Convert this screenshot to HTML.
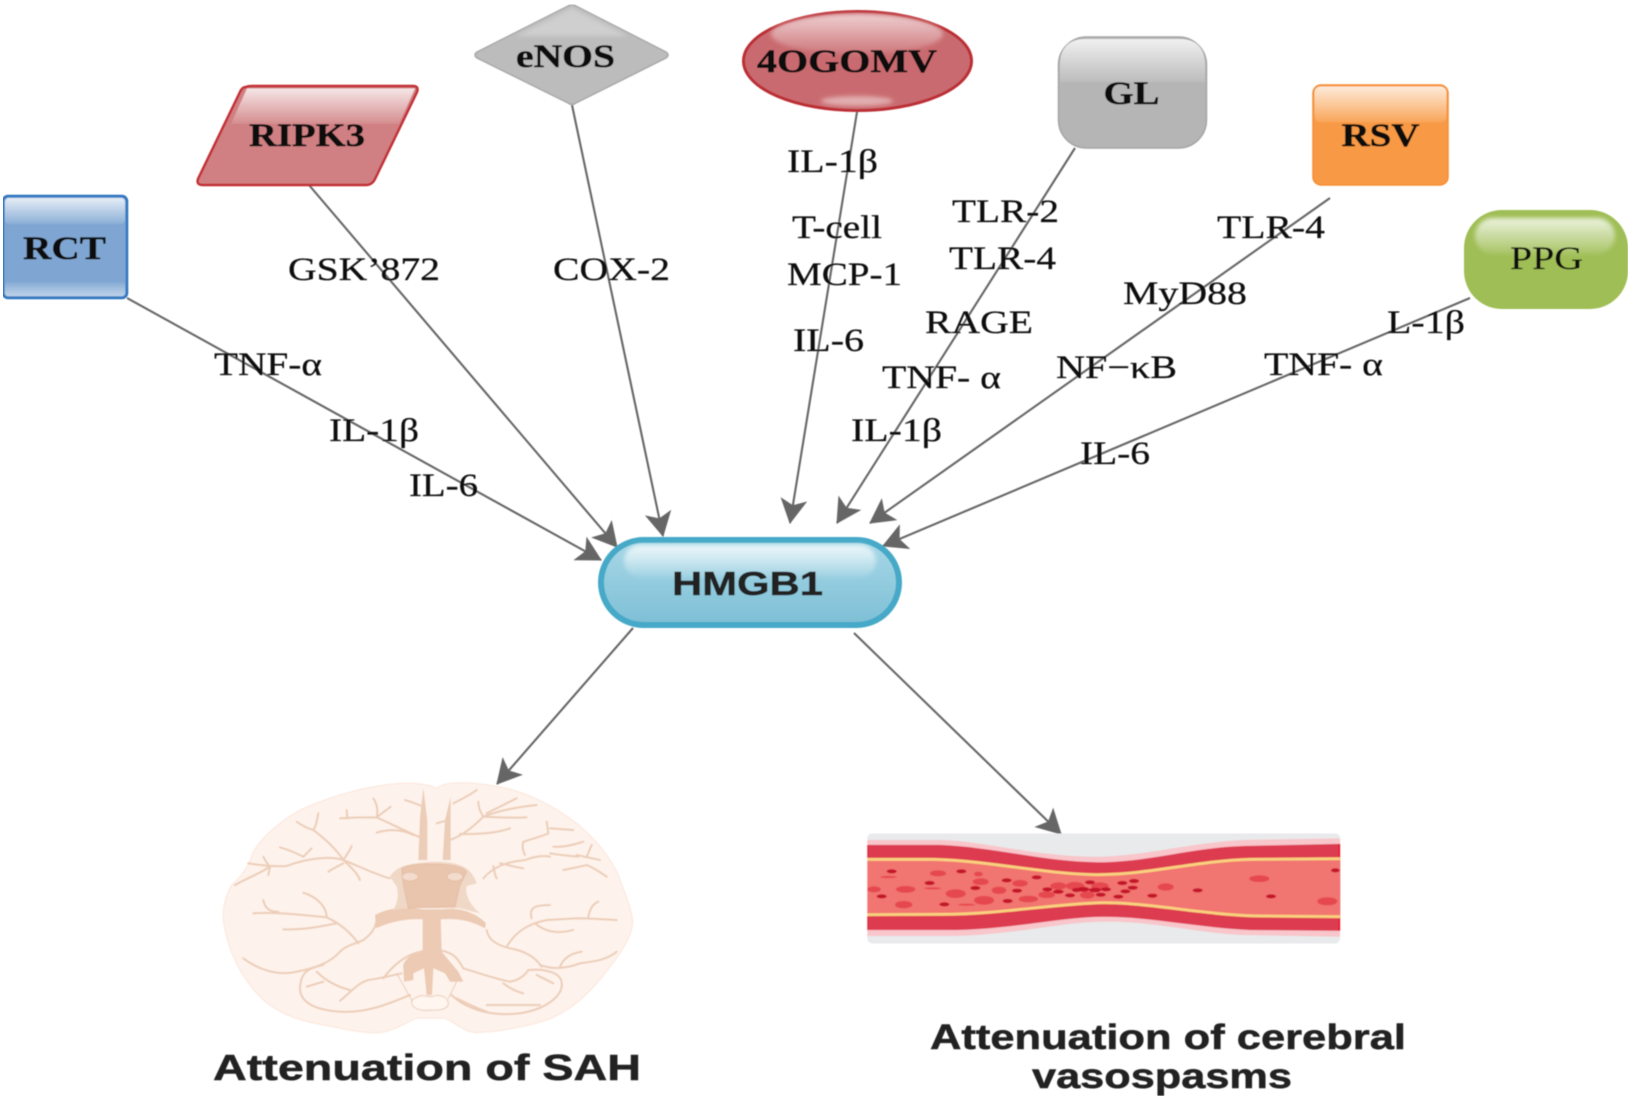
<!DOCTYPE html>
<html>
<head>
<meta charset="utf-8">
<style>
html,body{margin:0;padding:0;background:#fff}
svg{display:block}
.l{font-family:"Liberation Serif",serif;font-size:33px;fill:#111;stroke:#111;stroke-width:.25}
.b{font-family:"Liberation Serif",serif;font-size:33px;font-weight:bold;fill:#0c0c0c;stroke:#0c0c0c;stroke-width:.45}
.s{font-family:"Liberation Sans",sans-serif;font-weight:bold;fill:#222;stroke:#222;stroke-width:.5}
</style>
</head>
<body>
<svg width="1630" height="1099" viewBox="0 0 1630 1099" xmlns="http://www.w3.org/2000/svg">
<defs>
<linearGradient id="hl" x1="0" y1="0" x2="0" y2="1"><stop offset="0" stop-color="#fff" stop-opacity=".8"/><stop offset="1" stop-color="#fff" stop-opacity=".1"/></linearGradient>
<linearGradient id="hb" x1="0" y1="0" x2="0" y2="1"><stop offset="0" stop-color="#fff" stop-opacity=".05"/><stop offset="1" stop-color="#fff" stop-opacity=".5"/></linearGradient>
<linearGradient id="hg" x1="0" y1="0" x2="0" y2="1"><stop offset="0" stop-color="#a8d8e7"/><stop offset="1" stop-color="#7dbfd6"/></linearGradient>
<marker id="a" markerUnits="userSpaceOnUse" markerWidth="25" markerHeight="27" viewBox="0 0 25 27" refX="24" refY="13.5" orient="auto"><path d="M0,0 L25,13.5 L0,27 L6,13.5 z" fill="#666"/></marker>
<filter id="soft" x="0" y="0" width="100%" height="100%"><feGaussianBlur stdDeviation="0.55"/></filter>
<filter id="b2" x="-20%" y="-40%" width="140%" height="180%"><feGaussianBlur stdDeviation="2.2"/></filter>
</defs>
<rect width="1630" height="1099" fill="#fff"/>
<g filter="url(#soft)">
<!-- connectors -->
<g stroke="#666" stroke-width="2.1" fill="none">
<line x1="127" y1="298" x2="601" y2="560" marker-end="url(#a)"/>
<line x1="309" y1="185" x2="617" y2="547" marker-end="url(#a)"/>
<line x1="572" y1="105" x2="663" y2="536" marker-end="url(#a)"/>
<line x1="857" y1="112" x2="790" y2="523" marker-end="url(#a)"/>
<line x1="1075" y1="148" x2="837" y2="523" marker-end="url(#a)"/>
<line x1="1330" y1="198" x2="870" y2="523" marker-end="url(#a)"/>
<line x1="1470" y1="298" x2="883" y2="546" marker-end="url(#a)"/>
<line x1="633" y1="628" x2="497" y2="784" marker-end="url(#a)"/>
<line x1="854" y1="633" x2="1061" y2="834" marker-end="url(#a)"/>
</g>
<!-- RCT -->
<rect x="3" y="196" width="124" height="102" rx="5" fill="#7fa6d2" stroke="#2e75c0" stroke-width="2.5"/>
<rect x="5" y="198" width="120" height="26" rx="4" fill="url(#hl)"/>
<rect x="5" y="282" width="120" height="14" rx="3" fill="url(#hb)"/>
<text class="b" x="23" y="259" textLength="83" lengthAdjust="spacingAndGlyphs">RCT</text>
<!-- RIPK3 -->
<path d="M246,87 Q248,86 252,86 L413,86 Q419,86 417,92 L375,179 Q372,185 366,185 L203,185 Q196,185 198,179 L240,92 Q242,87 246,87 z" fill="#d08082" stroke="#c22f35" stroke-width="2.5"/>
<path d="M247,88.5 L415,88.5 L399,124 L231,124 z" fill="url(#hl)"/>
<text class="b" x="249" y="146" textLength="116" lengthAdjust="spacingAndGlyphs">RIPK3</text>
<!-- eNOS -->
<path d="M568,6 Q572,3 576,6 L666,52 Q670,55 666,58 L576,103 Q572,106 568,103 L477,58 Q473,55 477,52 z" fill="#bcbcbc" stroke="#a9a9a9" stroke-width="1.5"/>
<path d="M572,8 L628,36 L516,36 z" fill="#fff" fill-opacity=".28" filter="url(#b2)"/>
<text class="b" x="516" y="67" textLength="99" lengthAdjust="spacingAndGlyphs">eNOS</text>
<!-- 4OGOMV -->
<ellipse cx="857.5" cy="61" rx="114" ry="49.5" fill="#c96b6f" stroke="#bb2e34" stroke-width="3"/>
<ellipse cx="857" cy="34" rx="86" ry="20" fill="url(#hl)" filter="url(#b2)" opacity=".85"/>
<ellipse cx="857" cy="101" rx="36" ry="5" fill="#fff" fill-opacity=".45" filter="url(#b2)"/>
<text class="b" x="757" y="72" textLength="180" lengthAdjust="spacingAndGlyphs">4OGOMV</text>
<!-- GL -->
<rect x="1058.5" y="37" width="148" height="111" rx="28" fill="#b5b5b5" stroke="#a5a5a5" stroke-width="1.5"/>
<path d="M1060,82 L1060,65 Q1060,39 1086,39 L1179,39 Q1205,39 1205,65 L1205,82 Z" fill="url(#hl)"/>
<text class="b" x="1103.5" y="104" textLength="56" lengthAdjust="spacingAndGlyphs">GL</text>
<!-- RSV -->
<rect x="1313" y="85" width="135" height="100" rx="8" fill="#f89a45" stroke="#f58d34" stroke-width="1.5"/>
<rect x="1314.5" y="86.5" width="132" height="36" rx="6" fill="url(#hl)"/>
<text class="b" x="1341.5" y="146" textLength="78" lengthAdjust="spacingAndGlyphs">RSV</text>
<!-- PPG -->
<rect x="1464" y="210" width="164" height="99" rx="38" fill="#9fbe55"/>
<rect x="1475" y="218" width="140" height="36" rx="18" fill="url(#hl)" filter="url(#b2)"/>
<text class="l" x="1510" y="269" textLength="73" lengthAdjust="spacingAndGlyphs">PPG</text>
<!-- HMGB1 -->
<rect x="601" y="540" width="298" height="85" rx="42.5" fill="url(#hg)" stroke="#45a9c7" stroke-width="6"/>
<rect x="624" y="545" width="252" height="32" rx="16" fill="url(#hl)" filter="url(#b2)"/>
<text class="s" x="672" y="595" font-size="33" textLength="151" lengthAdjust="spacingAndGlyphs">HMGB1</text>
<!-- labels -->
<text class="l" x="214" y="375" textLength="108" lengthAdjust="spacingAndGlyphs">TNF-α</text>
<text class="l" x="329" y="441" textLength="90" lengthAdjust="spacingAndGlyphs">IL-1β</text>
<text class="l" x="409" y="496" textLength="69" lengthAdjust="spacingAndGlyphs">IL-6</text>
<text class="l" x="288" y="280" textLength="152" lengthAdjust="spacingAndGlyphs">GSK’872</text>
<text class="l" x="553" y="280" textLength="117" lengthAdjust="spacingAndGlyphs">COX-2</text>
<text class="l" x="787" y="172" textLength="91" lengthAdjust="spacingAndGlyphs">IL-1β</text>
<text class="l" x="792" y="238" textLength="90" lengthAdjust="spacingAndGlyphs">T-cell</text>
<text class="l" x="787" y="285" textLength="115" lengthAdjust="spacingAndGlyphs">MCP-1</text>
<text class="l" x="793" y="351" textLength="71" lengthAdjust="spacingAndGlyphs">IL-6</text>
<text class="l" x="952" y="222" textLength="107" lengthAdjust="spacingAndGlyphs">TLR-2</text>
<text class="l" x="949" y="269" textLength="107" lengthAdjust="spacingAndGlyphs">TLR-4</text>
<text class="l" x="925" y="333" textLength="108" lengthAdjust="spacingAndGlyphs">RAGE</text>
<text class="l" x="882" y="388" textLength="119" lengthAdjust="spacingAndGlyphs">TNF- α</text>
<text class="l" x="851" y="441" textLength="91" lengthAdjust="spacingAndGlyphs">IL-1β</text>
<text class="l" x="1217" y="238" textLength="108" lengthAdjust="spacingAndGlyphs">TLR-4</text>
<text class="l" x="1123" y="304" textLength="124" lengthAdjust="spacingAndGlyphs">MyD88</text>
<text class="l" x="1056" y="378" textLength="121" lengthAdjust="spacingAndGlyphs">NF−κB</text>
<text class="l" x="1387" y="333" textLength="78" lengthAdjust="spacingAndGlyphs">L-1β</text>
<text class="l" x="1264" y="375" textLength="119" lengthAdjust="spacingAndGlyphs">TNF- α</text>
<text class="l" x="1080" y="464" textLength="70" lengthAdjust="spacingAndGlyphs">IL-6</text>
<!-- Brain -->
<g transform="translate(200,760) scale(.33333)">
<path d="M710,85 C680,70 640,68 600,70 C500,78 400,105 300,150 C240,185 190,225 160,275 C150,310 130,345 95,375 C75,410 65,450 72,495 C85,570 120,650 180,710 C230,760 300,785 400,800 C450,812 500,820 540,818 C590,810 620,785 650,775 L735,775 C770,790 790,815 830,818 C900,815 980,800 1040,780 C1120,750 1180,690 1230,620 C1270,570 1300,520 1298,480 C1290,430 1270,390 1255,345 C1230,290 1190,240 1130,190 C1070,145 1000,105 920,85 C860,72 800,65 750,70 C735,72 720,78 710,85 z" fill="#fef3ec" stroke="#fbe6da" stroke-width="3"/>
<path d="M655,300 L660,170 L670,85 L682,180 L682,300 z M728,300 L735,180 L752,110 L752,240 L752,300 z" fill="#eccdb8"/>
<path d="M668,470 L668,570 C635,578 605,605 610,625 L612,665 L640,660 L640,640 L672,625 L680,705 L696,705 L700,625 L735,640 L750,665 L790,665 L775,635 L725,575 L722,470 z" fill="#eccab3"/>
<path d="M525,465 C570,440 620,442 668,448 L730,448 C780,440 830,460 858,490 L855,505 C810,480 770,475 722,478 L668,478 C620,475 570,485 528,505 z" fill="#eccab3"/>
<path d="M570,350 C585,325 610,310 700,305 C780,305 815,322 830,370 L800,378 C795,400 805,430 840,460 L780,445 L620,445 L580,450 C595,425 595,400 590,380 z" fill="#f0d8c6"/>
<path d="M605,325 Q620,312 700,312 Q780,312 800,335 L780,375 L765,440 L625,445 L610,375 z" fill="#e9c5ad" stroke="#e3b89e" stroke-width="2"/>
<ellipse cx="630" cy="350" rx="24" ry="13" fill="#f3dccd" stroke="#e3b89e" stroke-width="2"/>
<ellipse cx="765" cy="350" rx="24" ry="13" fill="#f3dccd" stroke="#e3b89e" stroke-width="2"/>
<g fill="none" stroke="#eccdb8" stroke-width="6" stroke-linecap="round" stroke-linejoin="round">
<path d="M660,232 C610,210 570,190 530,172 C500,172 460,172 420,175 M530,172 C535,150 530,130 520,115 M530,172 C545,160 560,150 572,140 M640,225 C610,210 570,205 530,218 M440,150 L442,175"/>
<path d="M668,140 C650,130 630,125 615,120"/>
<path d="M750,240 C790,225 820,200 850,170 C900,150 960,140 1010,135 M850,170 C840,155 835,140 835,125 M860,160 C890,145 920,130 950,115 M745,180 L710,190 M760,130 C790,115 810,105 830,90 M780,222 C830,222 880,222 930,205 M850,170 C890,172 940,175 980,172"/>
<path d="M290,185 C310,200 325,205 340,210 C350,195 352,175 355,160 M340,210 C380,240 410,270 430,300 C450,320 470,335 480,360 M430,300 C440,285 450,270 455,258 M430,310 C415,318 400,325 385,335"/>
<path d="M145,310 C180,315 210,320 260,318 C330,290 400,290 430,300 C480,320 530,345 570,355 M105,375 C150,350 180,340 210,320 C200,310 195,300 190,290 M210,320 L205,345 M240,262 C270,270 290,280 310,290 C320,280 328,272 335,265"/>
<path d="M160,460 C230,455 310,465 380,472 C420,490 450,515 475,550 M190,420 C195,450 215,455 235,455 M310,398 C350,410 380,440 380,472 M250,508 C310,510 360,500 410,490"/>
<path d="M130,595 C170,625 230,650 290,635 C340,625 390,610 420,575 C440,555 470,550 490,540 C510,525 525,510 530,480"/>
<path d="M850,355 C880,320 920,305 975,300 C1000,290 1030,285 1050,290 M880,318 C882,332 885,345 890,355 M900,310 C925,315 950,322 970,325 M975,285 C965,265 968,255 970,245 C1000,235 1030,228 1045,220 L1040,185 M1050,205 L1120,210 M1060,260 C1090,262 1120,255 1150,245 M1090,330 C1115,325 1140,320 1160,315 C1185,325 1205,340 1220,350 M1160,290 L1175,255 M1130,285 L1200,300 M1050,280 C1080,285 1110,288 1135,290"/>
<path d="M920,560 C950,510 990,490 1040,480 C1070,478 1100,477 1130,475 C1170,475 1210,478 1250,480 M995,475 C985,440 1010,435 1050,435 M1165,470 C1170,445 1180,430 1195,425 M1005,490 C1040,520 1080,520 1120,510"/>
<path d="M860,510 C865,540 890,555 930,565 C970,572 1005,590 1025,620 M1020,615 C1060,630 1100,625 1140,610 C1180,605 1220,600 1250,575 M1080,620 C1090,595 1110,580 1145,575"/>
<path d="M605,640 C560,650 540,655 505,660 C470,670 450,700 420,722 M350,635 C375,660 410,680 450,690 M320,680 L370,665 M665,575 C620,580 575,620 550,655"/>
<path d="M725,572 C770,580 780,610 790,625 C840,640 880,655 930,665 C960,660 975,645 985,630 M910,670 C930,685 950,695 970,700 M1010,645 C1030,655 1045,662 1060,670"/>
<path d="M300,690 C300,640 320,625 370,615 M300,690 C305,730 350,750 420,755 C500,760 570,730 630,705"/>
<path d="M1085,670 C1090,700 1050,745 960,760 C880,770 800,750 755,705 M985,630 C1040,625 1085,640 1085,670 M770,715 C800,730 830,745 860,755 M860,735 L1020,735"/>
<path d="M590,640 L635,720 M770,665 L745,715" stroke-width="3"/>
</g>
<path d="M650,712 C670,700 680,712 695,710 C720,700 745,712 745,730 C745,750 710,752 690,750 C665,755 635,745 635,728 C635,718 642,715 650,712 z" fill="#fff6f0" stroke="#eccdb8" stroke-width="3"/>
</g>
<!-- Vessel -->
<g transform="translate(850,800) scale(.33333)">
<rect x="52" y="100" width="1418" height="330" rx="14" fill="#e9eaeb"/>
<path d="M52,120 L280,120 C400,125 560,168 720,170 C880,172 1000,130 1180,120 L1470,115 L1470,410 L1180,405 C1050,400 900,362 760,365 C640,365 520,400 320,408 L52,408 z" fill="#f8c6cb"/>
<path d="M52,135 L270,135 C420,140 580,185 740,187 C900,188 1020,142 1190,138 L1470,132 L1470,392 L1200,390 C1040,382 900,350 760,350 C640,350 500,385 320,390 L52,390 z" fill="#dd3b50"/>
<path d="M52,135 L54,135 L54,390 L52,390 z M1466,132 L1470,132 L1470,392 L1466,392 z" fill="#e8001c"/>
<path d="M52,176 L250,176 C420,180 580,220 740,222 C900,222 1040,180 1200,176 L1470,174 L1470,352 L1220,350 C1050,345 900,310 760,310 C620,312 450,345 280,345 L52,347 z" fill="#f1756f"/>
<path d="M52,178 L250,178 C420,182 580,222 740,224 C900,224 1040,182 1200,178 L1470,176" fill="none" stroke="#f9d27e" stroke-width="9"/>
<path d="M52,344 L280,343 C450,343 620,310 760,308 C900,308 1050,343 1220,348 L1470,350" fill="none" stroke="#f9d27e" stroke-width="9"/>
<g fill="#e5484f">
<ellipse cx="72" cy="268" rx="20" ry="9"/><ellipse cx="167" cy="268" rx="29" ry="10"/><ellipse cx="161" cy="314" rx="26" ry="11"/><ellipse cx="264" cy="220" rx="24" ry="9"/><ellipse cx="392" cy="245" rx="24" ry="10"/><ellipse cx="317" cy="281" rx="30" ry="13"/><ellipse cx="402" cy="301" rx="30" ry="13"/><ellipse cx="447" cy="271" rx="22" ry="11"/><ellipse cx="510" cy="250" rx="23" ry="10"/><ellipse cx="535" cy="297" rx="29" ry="10"/><ellipse cx="590" cy="284" rx="25" ry="10"/><ellipse cx="625" cy="258" rx="24" ry="11"/><ellipse cx="675" cy="258" rx="28" ry="12"/><ellipse cx="712" cy="285" rx="22" ry="11"/><ellipse cx="750" cy="258" rx="26" ry="11"/><ellipse cx="947" cy="261" rx="24" ry="11"/><ellipse cx="1228" cy="236" rx="30" ry="10"/><ellipse cx="1432" cy="304" rx="30" ry="12"/><ellipse cx="385" cy="222" rx="13" ry="7"/><ellipse cx="115" cy="231" rx="25" ry="3"/><ellipse cx="248" cy="265" rx="25" ry="3"/><ellipse cx="350" cy="314" rx="25" ry="3"/>
</g>
<g fill="#c4122a">
<ellipse cx="125" cy="214" rx="15" ry="6"/><ellipse cx="95" cy="289" rx="15" ry="6"/><ellipse cx="239" cy="249" rx="15" ry="6"/><ellipse cx="334" cy="214" rx="15" ry="6"/><ellipse cx="283" cy="313" rx="15" ry="6"/><ellipse cx="376" cy="264" rx="15" ry="6"/><ellipse cx="470" cy="241" rx="15" ry="6"/><ellipse cx="501" cy="272" rx="15" ry="6"/><ellipse cx="473" cy="303" rx="15" ry="6"/><ellipse cx="560" cy="232" rx="15" ry="6"/><ellipse cx="592" cy="268" rx="15" ry="6"/><ellipse cx="660" cy="286" rx="15" ry="6"/><ellipse cx="720" cy="247" rx="15" ry="6"/><ellipse cx="752" cy="284" rx="15" ry="6"/><ellipse cx="768" cy="268" rx="15" ry="6"/><ellipse cx="805" cy="290" rx="15" ry="6"/><ellipse cx="826" cy="274" rx="15" ry="6"/><ellipse cx="817" cy="249" rx="15" ry="6"/><ellipse cx="852" cy="243" rx="15" ry="6"/><ellipse cx="848" cy="263" rx="15" ry="6"/><ellipse cx="907" cy="287" rx="15" ry="6"/><ellipse cx="1043" cy="271" rx="15" ry="6"/><ellipse cx="1263" cy="289" rx="15" ry="6"/><ellipse cx="1456" cy="211" rx="13" ry="6"/><ellipse cx="700" cy="268" rx="18" ry="7"/><ellipse cx="735" cy="270" rx="18" ry="7"/><ellipse cx="625" cy="275" rx="16" ry="6"/><ellipse cx="680" cy="270" rx="14" ry="6"/>
</g>
</g>
<!-- captions -->
<text class="s" x="213" y="1080" font-size="36" textLength="428" lengthAdjust="spacingAndGlyphs">Attenuation of SAH</text>
<text class="s" x="930" y="1049" font-size="35" textLength="476" lengthAdjust="spacingAndGlyphs">Attenuation of cerebral</text>
<text class="s" x="1032" y="1088" font-size="35" textLength="260" lengthAdjust="spacingAndGlyphs">vasospasms</text>
</g>
</svg>
</body>
</html>
